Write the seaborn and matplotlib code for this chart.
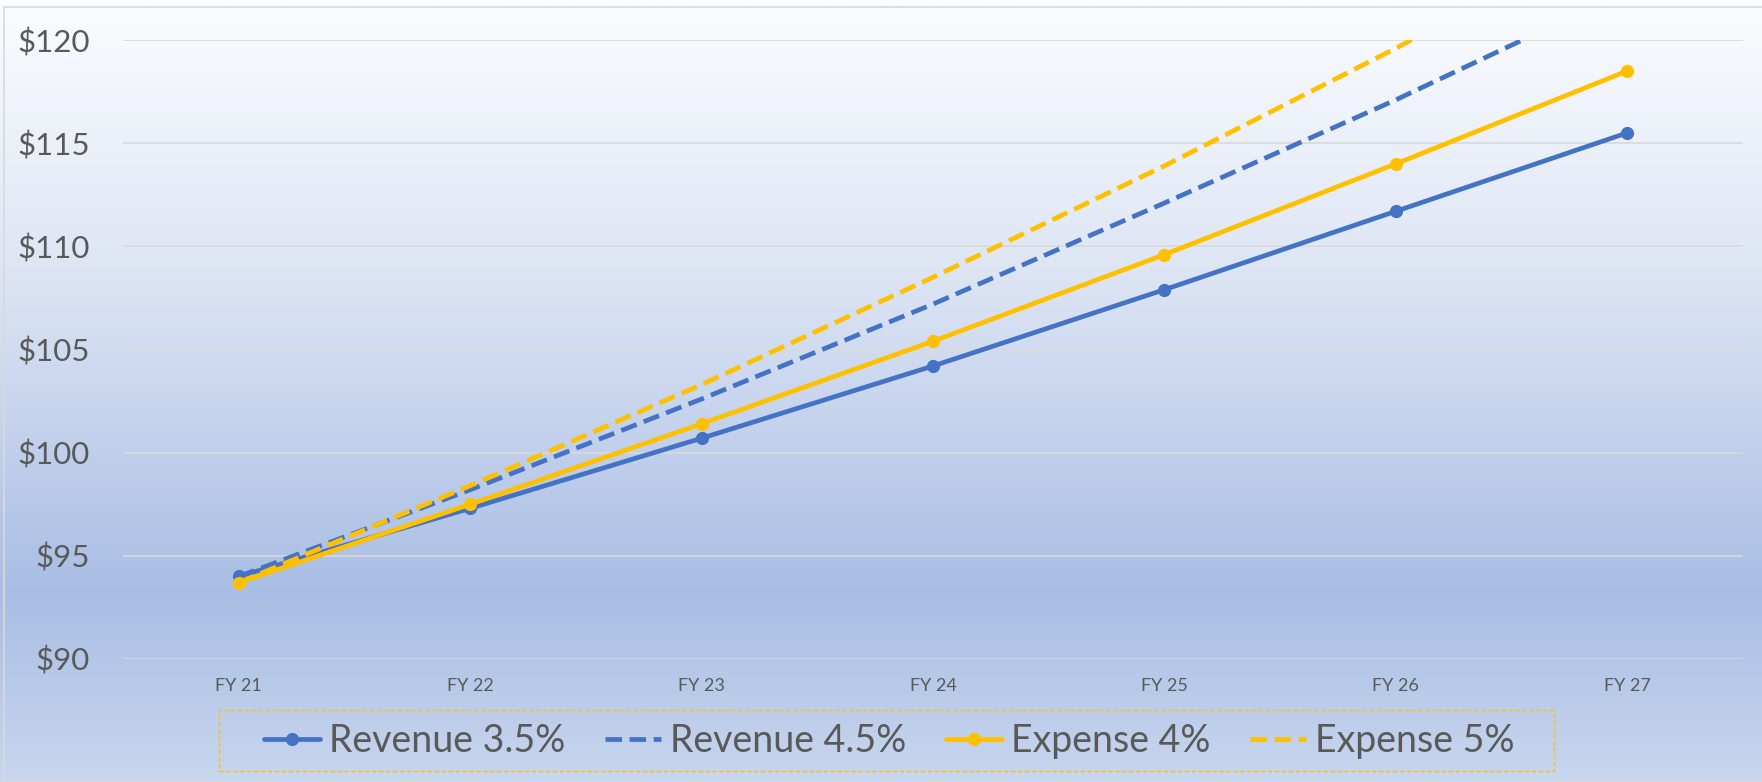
#!/usr/bin/env python3

import numpy as np
import pandas as pd
import matplotlib
matplotlib.use("Agg")
import matplotlib.pyplot as plt
import seaborn as sns
from matplotlib.colors import LinearSegmentedColormap
from matplotlib.patches import Rectangle
from matplotlib.lines import Line2D

# Data
years = ["FY 21", "FY 22", "FY 23", "FY 24", "FY 25", "FY 26", "FY 27"]
revenue_35 = [94.0, 97.3, 100.7, 104.2, 107.9, 111.7, 115.5]
revenue_45 = [94.0, 98.2, 102.6, 107.2, 112.1, 117.1, 122.4]
expense_4 = [93.7, 97.5, 101.4, 105.4, 109.6, 114.0, 118.5]
expense_5 = [93.7, 98.4, 103.3, 108.5, 113.9, 119.6, 125.6]

series_names = ["Revenue 3.5%", "Revenue 4.5%", "Expense 4%", "Expense 5%"]
y_ticks = [90, 95, 100, 105, 110, 115, 120]

BLUE = "#4472C4"
GOLD = "#FFC000"
TEXT = "#595959"
GRID = "#d9d9d9"

if __name__ == "__main__":
    sns.set_style("white")
    plt.rcParams["font.family"] = ["Lato", "DejaVu Sans"]

    df = pd.DataFrame({
        "Year": years * 4,
        "Value": revenue_35 + revenue_45 + expense_4 + expense_5,
        "Series": np.repeat(series_names, len(years)),
    })

    W, H = 1762, 782
    fig = plt.figure(figsize=(W / 100, H / 100), dpi=100)

    # gradient background
    bg = fig.add_axes([0, 0, 1, 1], zorder=0)
    cmap = LinearSegmentedColormap.from_list(
        "bg",
        [(0.0, "#fbfcfe"), (0.35, "#dde5f4"), (0.76, "#a9bee4"), (1.0, "#c8d6ee")],
    )
    grad = np.linspace(0, 1, 400).reshape(-1, 1)
    bg.imshow(grad, aspect="auto", cmap=cmap, extent=[0, 1, 0, 1], origin="upper")
    bg.set_xlim(0, 1)
    bg.set_ylim(0, 1)
    bg.axis("off")
    bg.add_patch(Rectangle((4 / W, 0), 1, 1 - 7 / H, fill=False,
                           edgecolor=GRID, linewidth=1.2))
    # legend box (dashed gold)
    bg.add_patch(Rectangle((219 / W, (H - 771) / H), (1554 - 219) / W, 61 / H,
                           fill=False, edgecolor=GOLD, linewidth=1.0,
                           linestyle=(0, (3, 2))))

    ax = fig.add_axes([123 / W, 123 / H, 1620 / W, 619 / H], zorder=1)
    ax.set_facecolor("none")

    styles = {
        "Revenue 3.5%": dict(color=BLUE, ls="-", marker="o"),
        "Revenue 4.5%": dict(color=BLUE, ls=(0, (3.5, 1.6)), marker=None),
        "Expense 4%": dict(color=GOLD, ls="-", marker="o"),
        "Expense 5%": dict(color=GOLD, ls=(0, (3.5, 1.6)), marker=None),
    }

    for name in series_names:
        st = styles[name]
        sub = df[df["Series"] == name]
        sns.lineplot(
            data=sub, x="Year", y="Value", ax=ax,
            color=st["color"], linestyle=st["ls"], marker=st["marker"],
            markersize=9.5, markeredgewidth=0, linewidth=3.4,
            sort=False, legend=False,
        )

    ax.set_xlim(-0.5, len(years) - 0.5)
    ax.set_ylim(90, 120)
    ax.set_yticks(y_ticks)
    ax.set_yticklabels([f"${v}" for v in y_ticks])
    ax.yaxis.grid(True, color=GRID, linewidth=1.2)
    ax.xaxis.grid(False)
    ax.set_axisbelow(True)
    for s in ax.spines.values():
        s.set_visible(False)
    ax.set_xlabel("")
    ax.set_ylabel("")
    ax.tick_params(axis="y", length=0, pad=24, labelsize=22.5, labelcolor=TEXT)
    ax.tick_params(axis="x", length=0, pad=14, labelsize=13, labelcolor=TEXT)

    handles = [
        Line2D([0], [0], color=styles[n]["color"], linestyle=styles[n]["ls"],
               marker=styles[n]["marker"], markersize=9.5, markeredgewidth=0,
               linewidth=3.4, label=n)
        for n in series_names
    ]
    fig.legend(
        handles=handles,
        loc="center",
        bbox_to_anchor=(889 / W, (H - 741) / H),
        ncol=4,
        fontsize=27,
        frameon=False,
        borderpad=0,
        handlelength=1.5,
        handletextpad=0.24,
        columnspacing=1.05,
        borderaxespad=0,
        labelcolor=TEXT,
    )

    fig.savefig("out.png", dpi=100)
    plt.close(fig)
